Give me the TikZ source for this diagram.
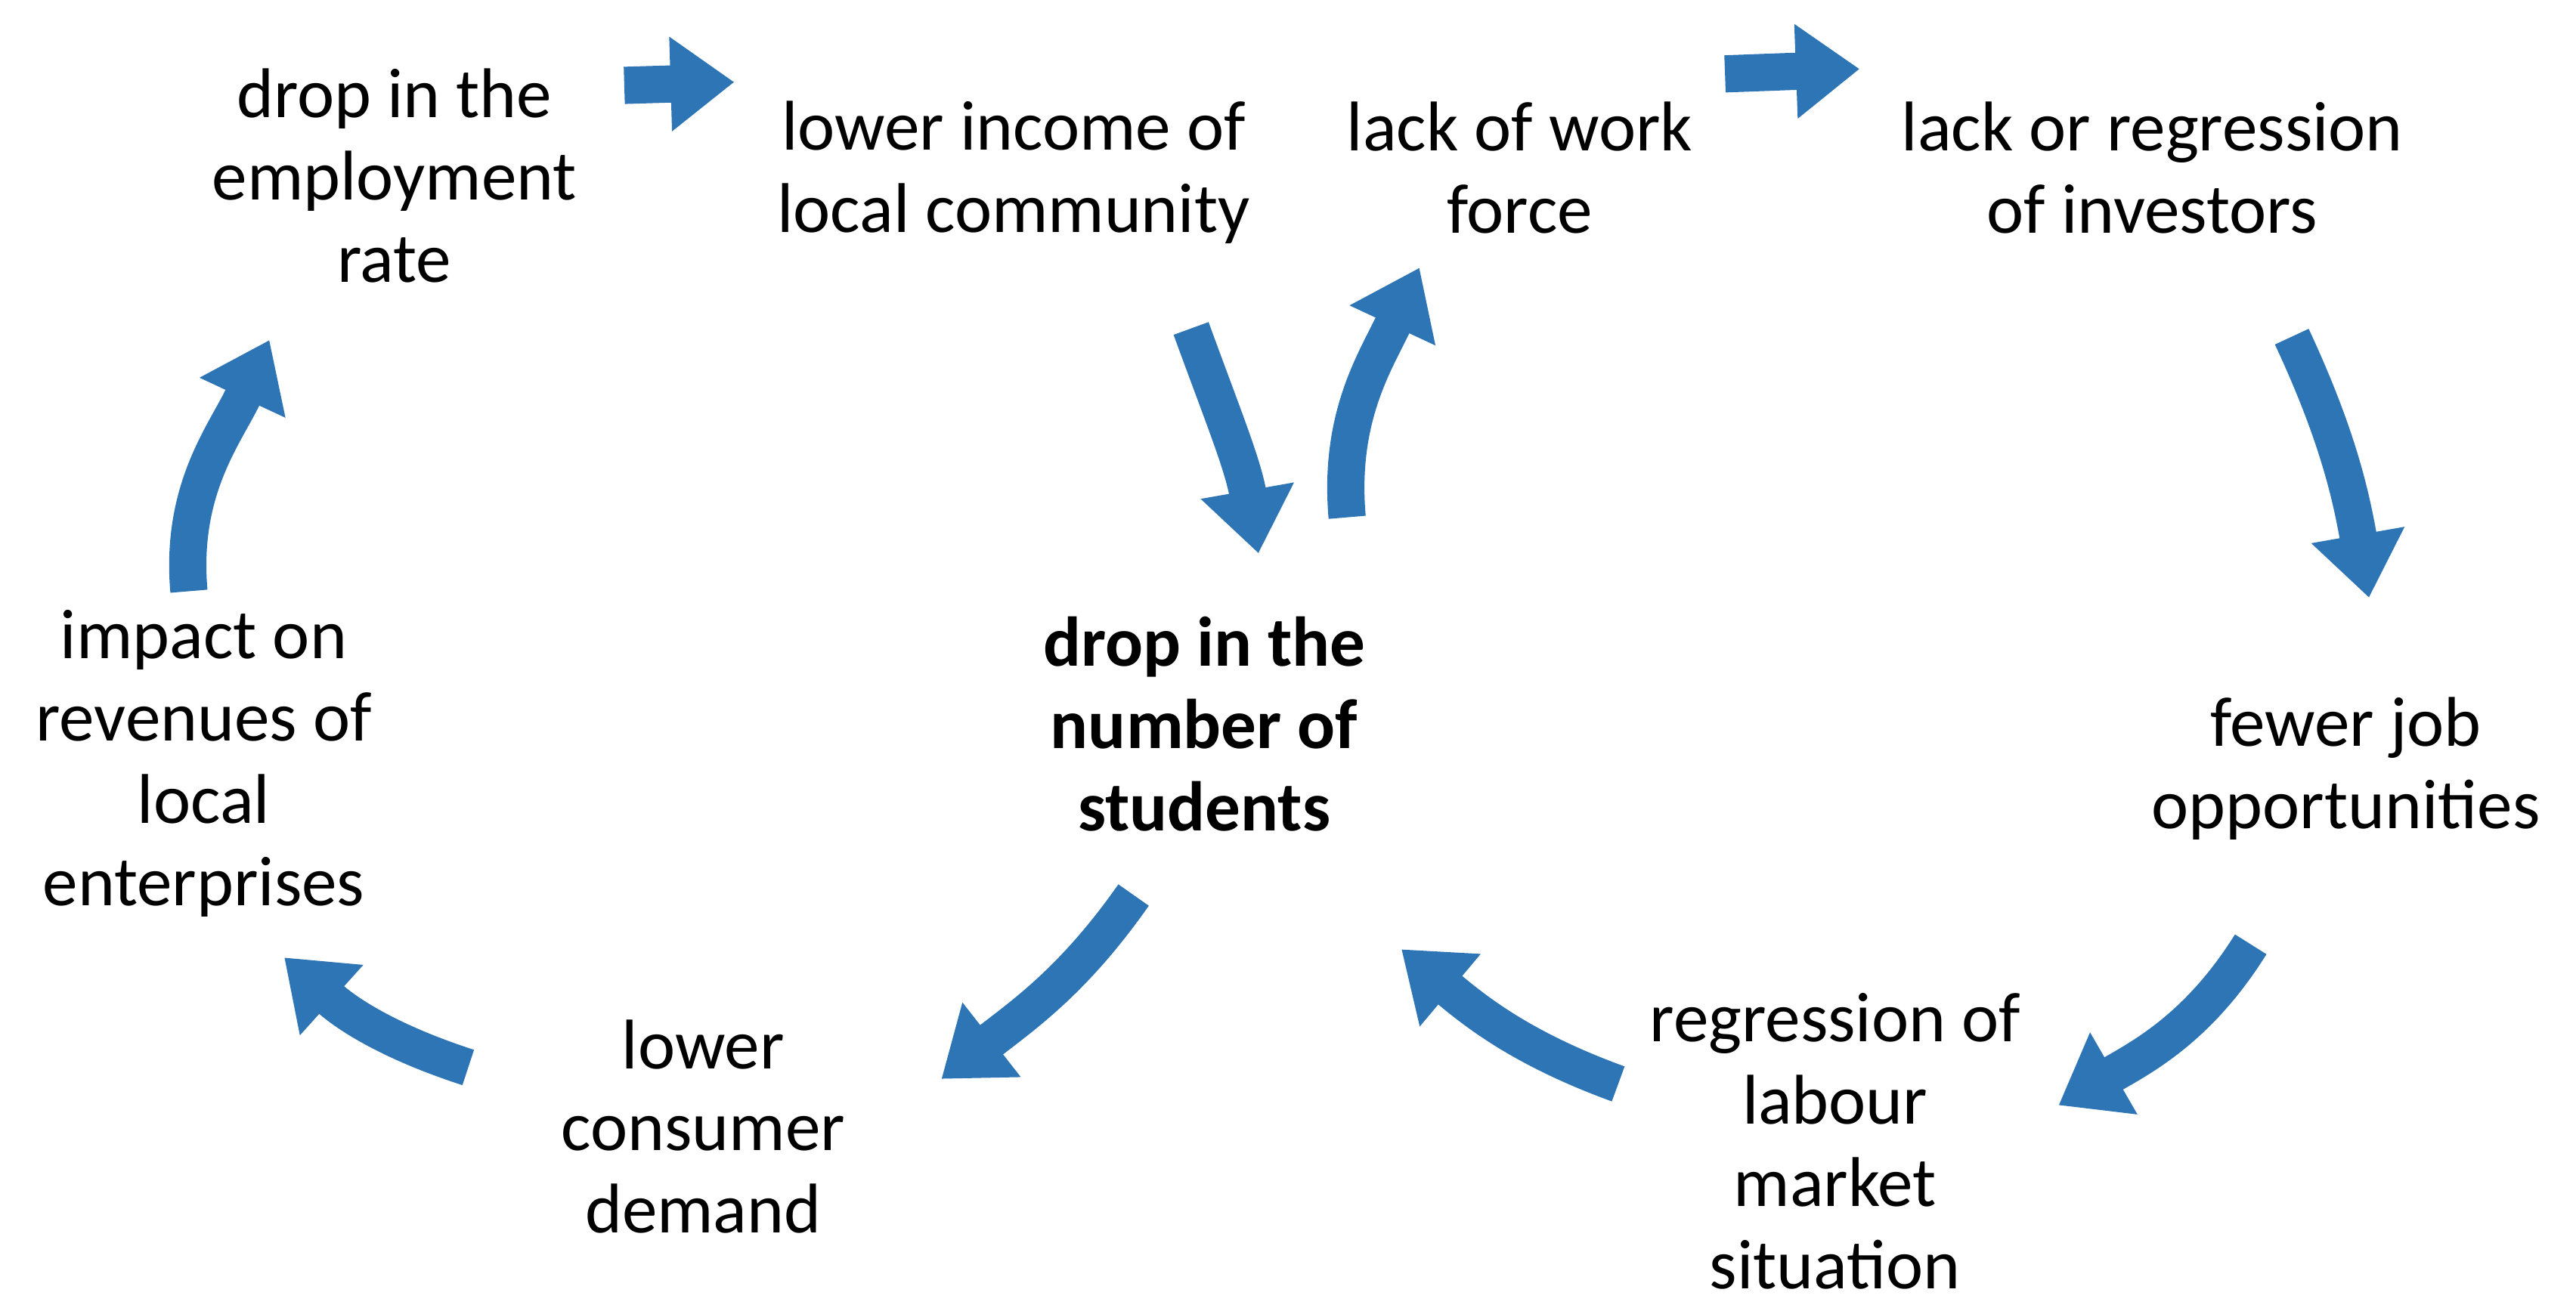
\documentclass[tikz,border=0pt]{standalone}
\usepackage{fontspec}
\setmainfont{Carlito}
\usetikzlibrary{arrows.meta}
\definecolor{arr}{RGB}{46,117,182}
\begin{document}
\begin{tikzpicture}[x=0.021735cm,y=0.021735cm,
 lbl/.style={align=center,font=\fontsize{26.5}{31}\selectfont,inner sep=0pt},
 blk/.style={draw=arr,line width=14pt,-{Triangle[length=24pt,width=34pt]}}]
\useasboundingbox (0,0) rectangle (1568,798);
\node[lbl] (emp) at (240,691) {drop in the\\employment\\rate};
\node[lbl] (inc) at (617,693) {lower income of\\local community};
\node[lbl] (wf) at (925,696) {lack of work\\force};
\node[lbl] (inv) at (1310,696) {lack or regression\\of investors};
\node[lbl] (job) at (1428,330) {fewer job\\opportunities};
\node[lbl] (lab) at (1117,103) {regression of\\labour\\market\\situation};
\node[lbl] (con) at (428,112) {lower\\consumer\\demand};
\node[lbl] (rev) at (124,333) {impact on\\revenues of\\local\\enterprises};
\node[lbl,font=\fontsize{26.5}{31}\selectfont\bfseries] (stu) at (733,357) {drop in the\\number of\\students};
\coordinate (a1) at (380,746); \coordinate (b1) at (447,748);
\coordinate (a2) at (1050,753); \coordinate (b2) at (1132,756);
\coordinate (a3) at (1395,593); \coordinate (b3) at (1442,434);
\coordinate (a4) at (1370,223); \coordinate (b4) at (1253,125);
\coordinate (a5) at (985,138); \coordinate (b5) at (853,220);
\coordinate (a6) at (690,253); \coordinate (b6) at (573,141);
\coordinate (a7) at (285,148); \coordinate (b7) at (173,215);
\coordinate (a8) at (115,438); \coordinate (b8) at (164,591);
\coordinate (a9) at (725,598); \coordinate (b9) at (766,461);
\coordinate (a10) at (820,483); \coordinate (b10) at (864,635);
\draw[blk] (a1) -- (b1);
\draw[blk] (a2) -- (b2);
\draw[blk] (a3) to[out=-65,in=100] (b3);
\draw[blk] (a4) to[out=238,in=30] (b4);
\draw[blk] (a5) to[out=160,in=-40] (b5);
\draw[blk] (a6) to[out=235,in=38] (b6);
\draw[blk] (a7) to[out=162,in=-42] (b7);
\draw[blk] (a8) to[out=95,in=245] (b8);
\draw[blk] (a9) to[out=-70,in=100] (b9);
\draw[blk] (a10) to[out=95,in=245] (b10);
\end{tikzpicture}
\end{document}
